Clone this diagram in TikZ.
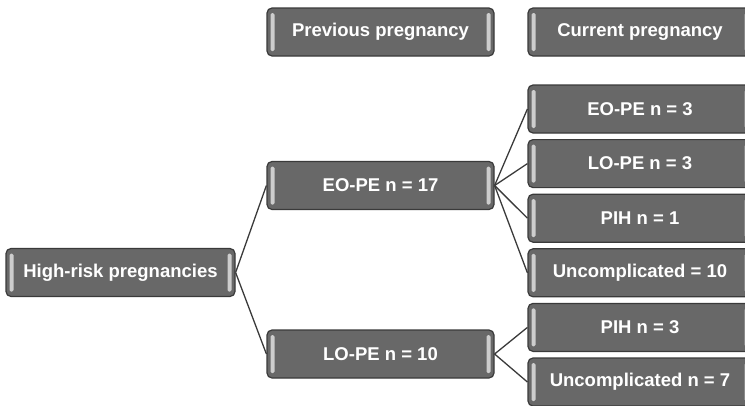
\documentclass[tikz,border=0pt]{standalone}
\usepackage{fontspec}
\setmainfont{Liberation Sans}
\usepackage{tikz}
\definecolor{boxfill}{RGB}{104, 104, 104}
\definecolor{boxline}{RGB}{58, 58, 58}
\definecolor{bevel}{RGB}{205, 205, 205}

\begin{document}
\begin{tikzpicture}[x=1pt, y=-1pt,
  box/.style={draw=boxline, line width=1.2pt, fill=boxfill, rounded corners=5pt,
    text=white, font=\fontsize{18.5}{20}\selectfont\bfseries,
    minimum height=48pt, inner sep=0pt,
    path picture={
      \fill[bevel, rounded corners=1.5pt]
        ([xshift=3.5pt, yshift=5pt]path picture bounding box.south west) rectangle
        ([xshift=7.5pt, yshift=-5pt]path picture bounding box.north west);
      \fill[bevel, rounded corners=1.5pt]
        ([xshift=-3.5pt, yshift=5pt]path picture bounding box.south east) rectangle
        ([xshift=-7.5pt, yshift=-5pt]path picture bounding box.north east);
    }},
  link/.style={draw=boxline, line width=1.3pt}]
  \useasboundingbox (0, 0) rectangle (745, 405);

  % column headers
  \node[box, minimum width=227pt] (prev) at (380.5, 32) {Previous pregnancy};
  \node[box, minimum width=224pt] (cur) at (640, 32) {Current pregnancy};

  \node[box, minimum width=229pt] (hr) at (120.5, 272.5) {High-risk pregnancies};
  \node[box, minimum width=227pt] (eo) at (380.5, 185.5) {EO-PE n = 17};
  \node[box, minimum width=227pt] (lo) at (380.5, 354) {LO-PE n = 10};

  \foreach [count=\n] \t in {EO-PE n = 3, LO-PE n = 3, PIH n = 1,
      Uncomplicated = 10, PIH n = 3, Uncomplicated n = 7} {
    \pgfmathsetmacro{\y}{109 + 54.6 * (\n - 1)}
    \node[box, minimum width=224pt] (c\n) at (640, \y) {\t};
  }

  \draw[link] (hr.east) -- (eo.west);
  \draw[link] (hr.east) -- (lo.west);
  \foreach \n in {1, ..., 4} {
    \draw[link] (eo.east) -- (c\n.west);
  }
  \foreach \n in {5, 6} {
    \draw[link] (lo.east) -- (c\n.west);
  }
\end{tikzpicture}
\end{document}
